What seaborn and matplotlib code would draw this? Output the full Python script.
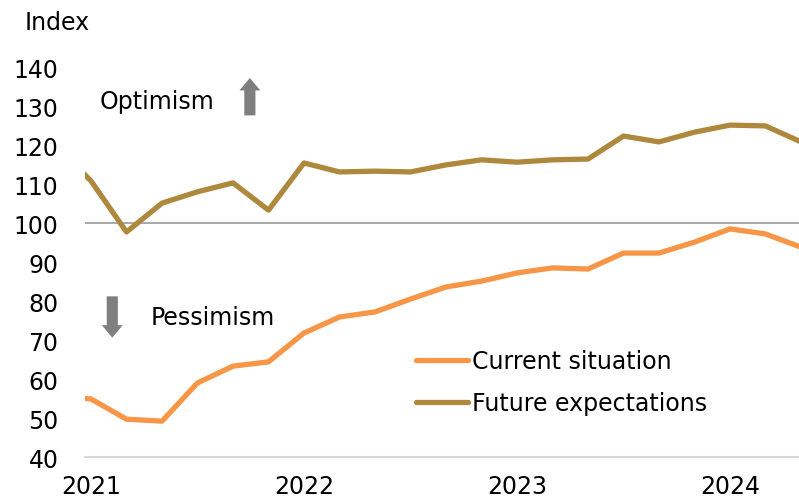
import pandas as pd
import matplotlib.pyplot as plt
import seaborn as sns

# bi-monthly readings (first point is partly cut off by the axis edge)
periods = [2020 + 10/12 + i/6 for i in range(22)]
current = [55.5, 54.9, 49.7, 49.2, 59.0, 63.3, 64.4, 71.8, 75.9, 77.2, 80.5,
           83.6, 85.1, 87.2, 88.5, 88.2, 92.3, 92.3, 95.1, 98.5, 97.2, 93.8]
future = [120.0, 110.8, 97.7, 105.1, 108.0, 110.3, 103.3, 115.4, 113.1, 113.3, 113.1,
          114.9, 116.2, 115.6, 116.2, 116.4, 122.3, 120.8, 123.3, 125.1, 124.9, 120.8]
series_names = ['Current situation', 'Future expectations']
year_ticks = [2021, 2022, 2023, 2024]
y_ticks = list(range(40, 141, 10))

df = pd.DataFrame({
    'period': periods * 2,
    'value': current + future,
    'series': [series_names[0]] * len(periods) + [series_names[1]] * len(periods),
})

sns.set_style('white')
plt.rcParams['font.family'] = ['DejaVu Sans']
plt.rcParams['text.color'] = 'black'
plt.rcParams['xtick.color'] = 'black'
plt.rcParams['ytick.color'] = 'black'

fig = plt.figure(figsize=(7.99, 5.02), dpi=100)
ax = fig.add_axes([0.1064, 0.0876, 0.8936, 0.7769])

# reference line at 100
ax.axhline(100, color='#9a9a9a', lw=1.2, zorder=1)

sns.lineplot(data=df, x='period', y='value', hue='series', hue_order=series_names,
             palette=['#F79646', '#AD883D'], linewidth=3.8, ax=ax, zorder=3)

ax.set_xlim(2020.972, 2024.324)
ax.set_ylim(40, 140)
ax.set_xticks(year_ticks)
ax.set_xticklabels([str(y) for y in year_ticks])
ax.set_yticks(y_ticks)
ax.tick_params(axis='both', labelsize=17, length=0)
ax.tick_params(axis='y', pad=19)
ax.tick_params(axis='x', pad=12)
ax.set_xlabel('')
ax.set_ylabel('')

for s in ['top', 'right', 'left']:
    ax.spines[s].set_visible(False)
ax.spines['bottom'].set_color('#d9d9d9')
ax.spines['bottom'].set_linewidth(1.5)

fig.text(0.031, 0.955, 'Index', fontsize=17, va='center', ha='left')

# optimism / pessimism hints
arrow_style = 'simple,head_width=1.5,head_length=0.9,tail_width=0.8'
ax.text(2021.04, 131.3, 'Optimism', fontsize=17, va='center', ha='left')
ax.annotate('', xy=(2021.746, 137.2), xytext=(2021.746, 127.6),
            arrowprops=dict(arrowstyle=arrow_style, color='#7f7f7f', lw=0,
                            shrinkA=0, shrinkB=0))
ax.text(2021.28, 75.9, 'Pessimism', fontsize=17, va='center', ha='left')
ax.annotate('', xy=(2021.10, 70.6), xytext=(2021.10, 81.2),
            arrowprops=dict(arrowstyle=arrow_style, color='#7f7f7f', lw=0,
                            shrinkA=0, shrinkB=0))

leg = ax.legend(loc='upper left', bbox_to_anchor=(0.45, 0.30), frameon=False,
                fontsize=17, handlelength=2.2, handletextpad=0.2, labelspacing=0.75,
                borderaxespad=0)
for line in leg.get_lines():
    line.set_linewidth(3.8)

fig.savefig('out.png', dpi=100)
